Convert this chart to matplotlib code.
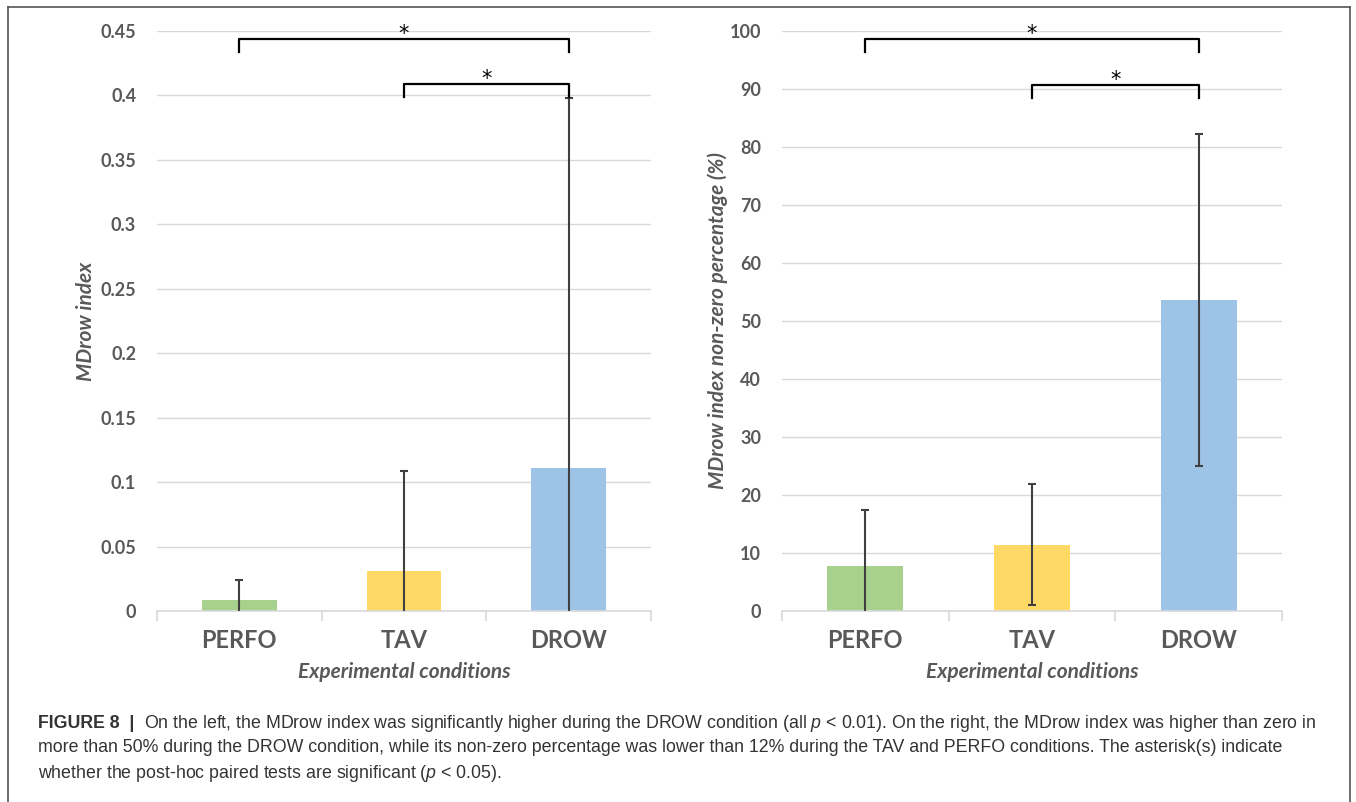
import matplotlib
matplotlib.use("Agg")
import matplotlib.pyplot as plt
from matplotlib.lines import Line2D

plt.rcParams["mathtext.fontset"] = "custom"
plt.rcParams["mathtext.rm"] = "Liberation Sans"
plt.rcParams["mathtext.it"] = "Liberation Sans:italic"

# data
conditions = ["PERFO", "TAV", "DROW"]
colors = ["#A9D18E", "#FFD966", "#9DC3E6"]
mdrow_mean = [0.0085, 0.031, 0.111]
mdrow_sd = [0.0155, 0.078, 0.287]
nonzero_mean = [7.8, 11.45, 53.6]
nonzero_sd = [9.6, 10.5, 28.6]

GRAY = "#595959"
CHART_FONT = "Lato"

fig = plt.figure(figsize=(13.56, 8.02), dpi=100)
ax1 = fig.add_axes([157 / 1356, 1 - 611 / 802, 494 / 1356, 580 / 802])
ax2 = fig.add_axes([782 / 1356, 1 - 611 / 802, 500 / 1356, 580 / 802])


def draw_panel(ax, means, sds, ymax, ystep, tick_fmt, ylabel, brackets, ylabelpad):
    x = range(len(conditions))
    ax.bar(x, means, width=0.455, color=colors, zorder=2)
    ax.errorbar(x, means, yerr=sds, fmt="none", ecolor="#404040", elinewidth=1.5,
                capsize=3, capthick=1.5, zorder=3)
    ax.set_xlim(-0.5, 2.5)
    ax.set_ylim(0, ymax)
    ticks = [i * ystep for i in range(int(round(ymax / ystep)) + 1)]
    ax.set_yticks(ticks)
    ax.set_yticklabels([tick_fmt(t) for t in ticks])
    ax.grid(axis="y", color="#d9d9d9", lw=1, zorder=0)
    for s in ["top", "right", "left"]:
        ax.spines[s].set_visible(False)
    ax.spines["bottom"].set_color("#d9d9d9")
    ax.spines["bottom"].set_linewidth(1.2)
    ax.tick_params(axis="y", length=0, pad=15, labelsize=13, labelcolor=GRAY)
    ax.set_xticks(list(x))
    ax.set_xticklabels(conditions)
    ax.set_xticks([-0.5, 0.5, 1.5, 2.5], minor=True)
    ax.tick_params(axis="x", which="major", length=0, pad=13, labelsize=17, labelcolor=GRAY)
    ax.tick_params(axis="x", which="minor", length=7, color="#d9d9d9", width=1.2)
    for lab in ax.get_xticklabels():
        lab.set_fontweight("bold")
        lab.set_family(CHART_FONT)
    for lab in ax.get_yticklabels():
        lab.set_fontweight("bold")
        lab.set_family(CHART_FONT)
    ax.set_xlabel("Experimental conditions", fontsize=15, style="italic", fontweight="bold",
                  color=GRAY, family=CHART_FONT, labelpad=7)
    ax.set_ylabel(ylabel, fontsize=15, style="italic", fontweight="bold",
                  color=GRAY, family=CHART_FONT, labelpad=ylabelpad)
    for (i, j, top, drop) in brackets:
        ax.plot([i, i, j, j], [top - drop, top, top, top - drop], color="black", lw=1.6,
                clip_on=False, zorder=4)
        ax.text((i + j) / 2, top + drop * 0.4, "*", ha="center", va="center", fontsize=15,
                color="black", clip_on=False)


draw_panel(ax1, mdrow_mean, mdrow_sd, 0.45, 0.05,
           lambda t: "0" if t == 0 else f"{t:.2f}".rstrip("0"),
           "MDrow index",
           [(0, 2, 0.444, 0.010), (1, 2, 0.409, 0.010)], 3)
draw_panel(ax2, nonzero_mean, nonzero_sd, 100, 10,
           lambda t: f"{t:.0f}",
           "MDrow index non-zero percentage (%)",
           [(0, 2, 98.6, 2.2), (1, 2, 90.7, 2.2)], 1)

# frame around the figure
for xs, ys in [([8, 1350], [7, 7]), ([8, 8], [7, 802]), ([1350, 1350], [7, 802])]:
    fig.add_artist(Line2D([v / 1356 for v in xs], [1 - v / 802 for v in ys],
                          color="#555555", lw=1.2))

# caption
cap_font = "Liberation Sans"
cap_color = "#333333"
fs = 12.8
lines = [
    "On the left, the MDrow index was significantly higher during the DROW condition (all $p$ < 0.01). On the right, the MDrow index was higher than zero in",
    "more than 50% during the DROW condition, while its non-zero percentage was lower than 12% during the TAV and PERFO conditions. The asterisk(s) indicate",
    "whether the post-hoc paired tests are significant ($p$ < 0.05).",
]
x0 = 38 / 1356
head = fig.text(x0, 1 - 723 / 802, "FIGURE 8  |  ", fontsize=fs, fontweight="bold",
                family=cap_font, color=cap_color, va="center")
fig.canvas.draw()
bb = head.get_window_extent()
fig.text(bb.x1 / 1356, 1 - 723 / 802, lines[0], fontsize=fs, family=cap_font,
         color=cap_color, va="center")
fig.text(x0, 1 - 748 / 802, lines[1], fontsize=fs, family=cap_font, color=cap_color, va="center")
fig.text(x0, 1 - 773 / 802, lines[2], fontsize=fs, family=cap_font, color=cap_color, va="center")

fig.savefig("out.png", dpi=100)
